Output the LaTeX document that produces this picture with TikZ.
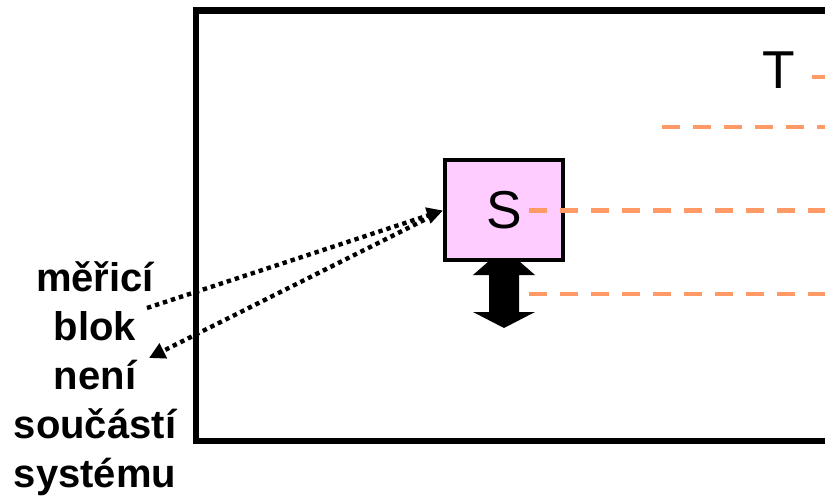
\documentclass[tikz,border=0pt]{standalone}
\usepackage{fontspec}
\setmainfont{Liberation Sans}
\usepackage{xcolor}
\usepackage{tikz}
\usetikzlibrary{arrows.meta,positioning,calc}

\definecolor{sigorange}{RGB}{255,153,102}
\definecolor{blockpink}{RGB}{255,204,255}

\begin{document}
\begin{tikzpicture}[x=0.75pt, y=-0.75pt,
        sigline/.style={sigorange, line width=3.3pt, dash pattern=on 13.5pt off 9.75pt},
        measline/.style={line width=3.3pt, dash pattern=on 3.3pt off 3pt, -{Triangle[length=12pt, width=12pt]}},
        bigfont/.style={font=\fontsize{40}{48}\selectfont}]
        \useasboundingbox (0,0) rectangle (825,499);
        \clip (0,0) rectangle (825,499);

        % Double Arrow (block covers its top tip)
        \fill (504,248) -- (535,275) -- (519,275) -- (519,312) -- (535,312) -- (504,328)
            -- (473,312) -- (489,312) -- (489,275) -- (473,275) -- cycle;

        % System Boundary
        \draw[line width=5pt] (196,10.5) rectangle (900,441);

        % Block S and Label T
        \node[draw, line width=3pt, fill=blockpink, minimum width=88.5pt, minimum height=75pt, bigfont] (S) at (504,210.5) {S};
        \node[bigfont] (T) at (779,70) {T};
        \coordinate (edge) at (830,0);

        % Signal Lines
        \draw[sigline] ($(T.center)+(33,7)$) -- ($(T.center -| edge)+(0,7)$);
        \draw[sigline] ($(T.center)+(-117,57)$) -- ($(T.center -| edge)+(0,57)$);
        \draw[sigline] ($(S.center)+(25,0)$) -- (S.center -| edge);
        \draw[sigline] ($(S.center)+(25,83.5)$) -- ($(S.center -| edge)+(0,83.5)$);

        % Note: Measuring Block
        \node[font=\fontsize{30}{36.75}\selectfont\bfseries, align=center, anchor=base] (note) at (95,487)
            {měřicí\\blok\\není\\součástí\\systému};
        \coordinate (noteA) at (147,308);
        \coordinate (noteB) at (149,358);
        \draw[measline] (noteA) -- (S.west);
        \draw[measline] ($(S.west)+(-11,5.5)$) -- (noteB);
    \end{tikzpicture}
\end{document}
